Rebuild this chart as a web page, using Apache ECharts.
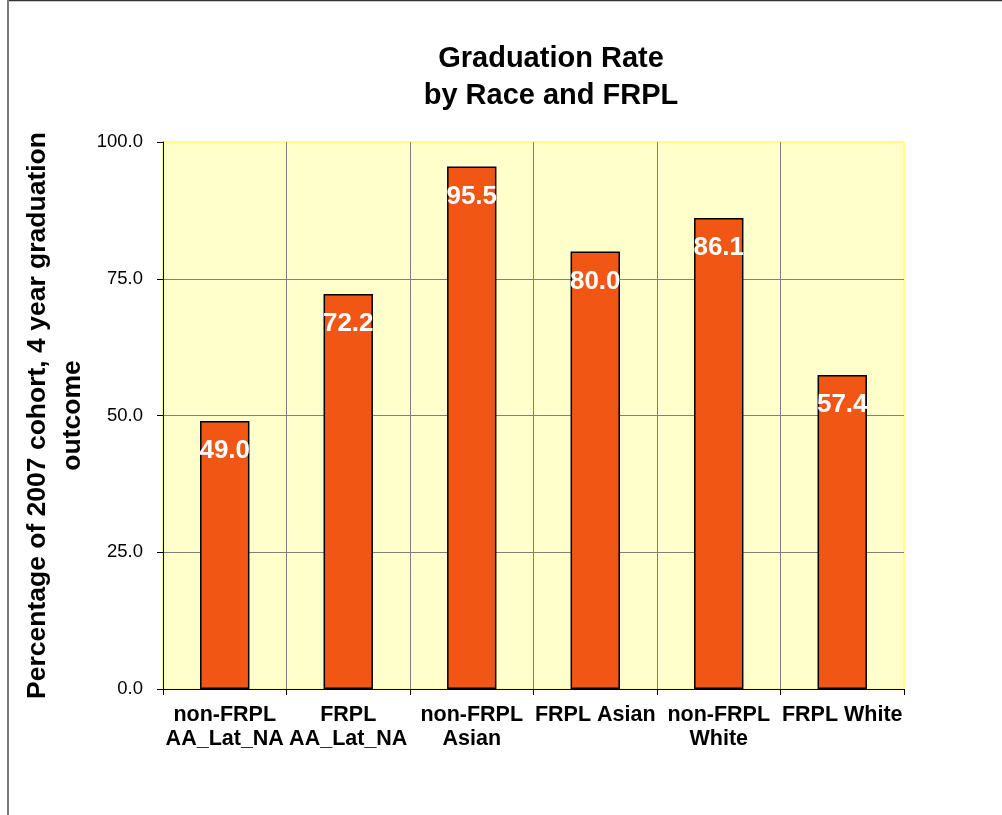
<!DOCTYPE html>
<html>
<head>
<meta charset="utf-8">
<title>Graduation Rate by Race and FRPL</title>
<script src="https://cdn.jsdelivr.net/npm/echarts@6/dist/echarts.min.js"></script>
<style>
  html, body { margin: 0; padding: 0; background: #ffffff; }
  #chart { width: 1002px; height: 815px; }
</style>
</head>
<body>
<div id="chart"></div>
<script>
// Category labels (wrapped as shown under the axis)
const categories = [
  'non-FRPL\nAA_Lat_NA',
  'FRPL\nAA_Lat_NA',
  'non-FRPL\nAsian',
  'FRPL Asian',
  'non-FRPL\nWhite',
  'FRPL White'
];
// 4-year graduation rate, percent of the 2007 cohort
const gradRates = [49.0, 72.2, 95.5, 80.0, 86.1, 57.4];
// Value axis settings
const yMin = 0;
const yMax = 100;
const yStep = 25;

const FONT = '"Liberation Sans", Arial, Helvetica, sans-serif';
const GRID_GRAY = '#808080';
const EDGE_YELLOW = '#FFFF80';

const chart = echarts.init(document.getElementById('chart'), null, { renderer: 'canvas' });

// split line colours: gray inside the plot, yellow on the outer top / right edge
const ySplitColors = [];
for (let v = yMin; v <= yMax; v += yStep) ySplitColors.push(v === yMax ? EDGE_YELLOW : GRID_GRAY);
const xSplitColors = categories.map(() => GRID_GRAY).concat([EDGE_YELLOW]);

chart.setOption({
  animation: false,
  backgroundColor: '#ffffff',
  title: {
    text: 'Graduation Rate\nby Race and FRPL',
    left: 551,
    textAlign: 'center',
    top: 40,
    padding: 0,
    textStyle: {
      fontFamily: FONT,
      fontSize: 29,
      fontWeight: 'bold',
      color: '#000000',
      lineHeight: 37
    }
  },
  grid: {
    left: 163,
    top: 142,
    right: 98,
    bottom: 126,
    show: true,
    backgroundColor: '#FFFFCC',
    borderColor: EDGE_YELLOW,
    borderWidth: 2
  },
  xAxis: {
    type: 'category',
    data: categories,
    boundaryGap: true,
    axisLine: { show: true, lineStyle: { color: '#000000', width: 1 } },
    axisTick: { show: true, inside: false, length: 6, alignWithLabel: false, lineStyle: { color: '#000000' } },
    splitLine: { show: true, lineStyle: { color: xSplitColors, width: 1 } },
    axisLabel: {
      interval: 0,
      margin: 14,
      fontFamily: FONT,
      fontSize: 21.5,
      fontWeight: 'bold',
      color: '#000000',
      lineHeight: 24
    }
  },
  yAxis: {
    type: 'value',
    min: yMin,
    max: yMax,
    interval: yStep,
    name: 'Percentage of 2007 cohort, 4 year graduation\noutcome',
    nameLocation: 'middle',
    nameGap: 73,
    nameRotate: 90,
    nameMoveOverlap: false,
    nameTextStyle: {
      fontFamily: FONT,
      fontSize: 26.5,
      fontWeight: 'bold',
      color: '#000000',
      lineHeight: 35,
      align: 'center'
    },
    axisLine: { show: true, lineStyle: { color: '#000000', width: 1 } },
    axisTick: { show: true, inside: false, length: 6, lineStyle: { color: '#000000' } },
    splitLine: { show: true, lineStyle: { color: ySplitColors, width: 1 } },
    axisLabel: {
      margin: 20,
      fontFamily: FONT,
      fontSize: 18.5,
      color: '#000000',
      formatter: (v) => v.toFixed(1)
    }
  },
  series: [{
    type: 'bar',
    data: gradRates,
    barWidth: '40%',
    itemStyle: {
      color: '#F15614',
      borderColor: '#000000',
      borderWidth: 1.5
    },
    label: {
      show: true,
      position: 'insideTop',
      distance: 17,
      fontFamily: FONT,
      fontSize: 26,
      fontWeight: 'bold',
      color: '#ffffff',
      formatter: (p) => p.value.toFixed(1)
    }
  }],
  // outer frame lines on the top and left of the chart area
  graphic: [
    {
      type: 'line',
      shape: { x1: 8, y1: 0.5, x2: 1002, y2: 0.5 },
      style: { stroke: '#333333', lineWidth: 1.5 },
      z: 100
    },
    {
      type: 'line',
      shape: { x1: 8, y1: 0, x2: 8, y2: 815 },
      style: { stroke: '#7a7a7a', lineWidth: 2 },
      z: 100
    }
  ]
});
</script>
</body>
</html>
